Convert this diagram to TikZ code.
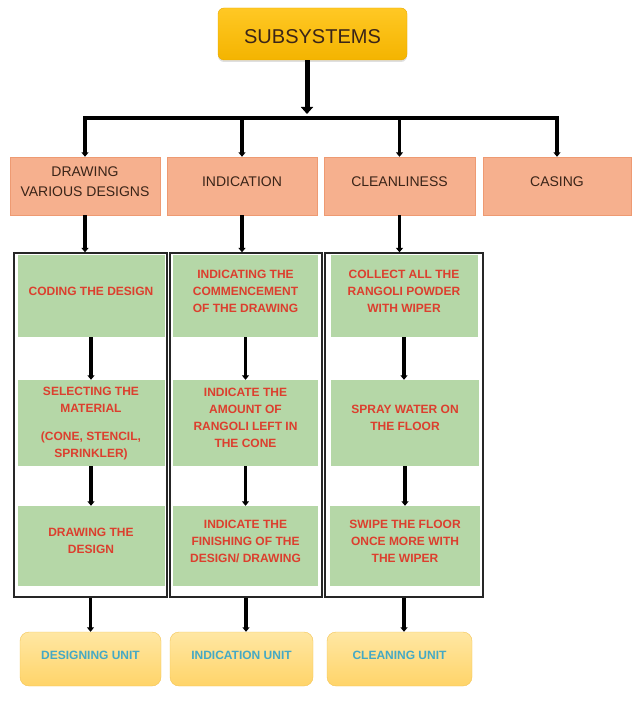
\documentclass[tikz,border=0pt]{standalone}
\usepackage{fontspec}
\setmainfont{Liberation Sans}
\usetikzlibrary{arrows.meta,shadows}

\definecolor{sysTop}{HTML}{FFC824}
\definecolor{sysBot}{HTML}{F4B400}
\definecolor{sysLine}{HTML}{E9A900}
\definecolor{subFill}{HTML}{F6B08E}
\definecolor{subLine}{HTML}{EE9A72}
\definecolor{stepFill}{HTML}{B5D7A7}
\definecolor{stepText}{HTML}{DC3F2E}
\definecolor{unitTop}{HTML}{FFE7A3}
\definecolor{unitBot}{HTML}{FFD469}
\definecolor{unitLine}{HTML}{F3C455}
\definecolor{unitText}{HTML}{45A9C4}
\definecolor{topText}{HTML}{3A2418}

\begin{document}
\begin{tikzpicture}[x=1pt,y=-1pt,
        sysbox/.style={rounded corners=6pt, top color=sysTop, bottom color=sysBot, draw=sysLine,
            drop shadow={opacity=0.25, shadow xshift=0pt, shadow yshift=-2pt},
            minimum width=189pt, minimum height=52pt},
        systext/.style={text=topText, font=\fontsize{20}{24}\selectfont, yshift=-3pt},
        subbox/.style={fill=subFill, draw=subLine, minimum width=150pt, minimum height=58pt},
        subtext/.style={text=topText, align=center, font=\fontsize{14}{20}\selectfont, yshift=4.5pt},
        stepbox/.style={fill=stepFill, minimum width=147pt, inner sep=0pt},
        steptext/.style={text=stepText, align=center, font=\bfseries\fontsize{12}{17}\selectfont, yshift=5pt},
        framebox/.style={draw=black!85, line width=1.3pt, minimum width=153pt, minimum height=344pt, inner sep=0pt},
        unitbox/.style={rounded corners=9pt, top color=unitTop, bottom color=unitBot, draw=unitLine, minimum height=54pt},
        unittext/.style={text=unitText, font=\bfseries\fontsize{12}{14}\selectfont, yshift=4pt},
        link/.style={line width=3.2pt, -{Triangle[width=7pt,length=4.5pt]}}
    ]
    \useasboundingbox (0,0) rectangle (639,703);

    \node[sysbox, label={[systext]center:SUBSYSTEMS}] (top) at (312.5,34) {};
    \coordinate (bus) at (307,118);

    \node[subbox, label={[subtext]center:{DRAWING\\VARIOUS DESIGNS}}] (drw) at (85,186) {};
    \node[subbox, label={[subtext]center:INDICATION}] (ind) at (242,186) {};
    \node[subbox, minimum width=151pt, label={[subtext]center:CLEANLINESS}] (cln) at (399.5,186) {};
    \node[subbox, minimum width=148pt, label={[subtext]center:CASING}] (cas) at (557,186) {};

    \node[framebox] (frm1) at (90.5,425) {};
    \node[framebox, minimum width=152pt] (frm2) at (246,425) {};
    \node[framebox, minimum width=158pt] (frm3) at (404,425) {};

    \node[stepbox, minimum height=82pt, label={[steptext]center:CODING THE DESIGN}] (cod) at (91,296) {};
    \node[stepbox, minimum height=86pt, label={[steptext, yshift=-6pt]center:{SELECTING THE\\MATERIAL\\[11pt](CONE, STENCIL,\\SPRINKLER)}}] (sel) at (91,423) {};
    \node[stepbox, minimum height=80pt, label={[steptext]center:{DRAWING THE\\DESIGN}}] (des) at (91,546) {};

    \node[stepbox, minimum width=145pt, minimum height=82pt, label={[steptext]center:{INDICATING THE\\COMMENCEMENT\\OF THE DRAWING}}] (com) at (245.5,296) {};
    \node[stepbox, minimum width=145pt, minimum height=86pt, label={[steptext]center:{INDICATE THE\\AMOUNT OF\\RANGOLI LEFT IN\\THE CONE}}] (amt) at (245.5,423) {};
    \node[stepbox, minimum width=145pt, minimum height=80pt, label={[steptext]center:{INDICATE THE\\FINISHING OF THE\\DESIGN/ DRAWING}}] (fin) at (245.5,546) {};

    \node[stepbox, minimum height=82pt, label={[steptext]center:{COLLECT ALL THE\\RANGOLI POWDER\\WITH WIPER}}] (col) at (404,296) {};
    \node[stepbox, minimum width=148pt, minimum height=86pt, label={[steptext]center:{SPRAY WATER ON\\THE FLOOR}}] (spr) at (405,423) {};
    \node[stepbox, minimum width=150pt, minimum height=80pt, label={[steptext]center:{SWIPE THE FLOOR\\ONCE MORE WITH\\THE WIPER}}] (swp) at (405,546) {};

    \node[unitbox, minimum width=141pt, label={[unittext]center:DESIGNING UNIT}] (dun) at (90.5,659) {};
    \node[unitbox, minimum width=143pt, label={[unittext]center:INDICATION UNIT}] (iun) at (241.5,659) {};
    \node[unitbox, minimum width=145pt, label={[unittext]center:CLEANING UNIT}] (cun) at (399.5,659) {};

    % main branch
    \draw[line width=5pt, -{Triangle[width=12pt,length=7pt]}, shorten >=4pt] (top.south -| bus) -- (bus);
    \draw[line width=3.2pt] ([xshift=-1.6pt]drw.north |- bus) -- ([xshift=1.6pt]cas.north |- bus);
    \draw[link] (drw.north |- bus) -- (drw.north);
    \draw[link] (ind.north |- bus) -- (ind.north);
    \draw[link] (cln.north |- bus) -- (cln.north);
    \draw[link] (cas.north |- bus) -- (cas.north);

    % into the columns
    \draw[link] (drw.south) -- (drw.south |- frm1.north);
    \draw[link] (ind.south) -- (ind.south |- frm2.north);
    \draw[link] (cln.south) -- (cln.south |- frm3.north);

    \draw[link] (cod.south) -- (cod.south |- sel.north);
    \draw[link] (sel.south) -- (sel.south |- des.north);
    \draw[link] (com.south) -- (com.south |- amt.north);
    \draw[link] (amt.south) -- (amt.south |- fin.north);
    \draw[link] (col.south) -- (col.south |- spr.north);
    \draw[link] (spr.south) -- (spr.south |- swp.north);

    % out to the units
    \draw[link] (frm1.south) -- (frm1.south |- dun.north);
    \draw[link] (frm2.south) -- (frm2.south |- iun.north);
    \draw[link] (frm3.south) -- (frm3.south |- cun.north);
\end{tikzpicture}
\end{document}
